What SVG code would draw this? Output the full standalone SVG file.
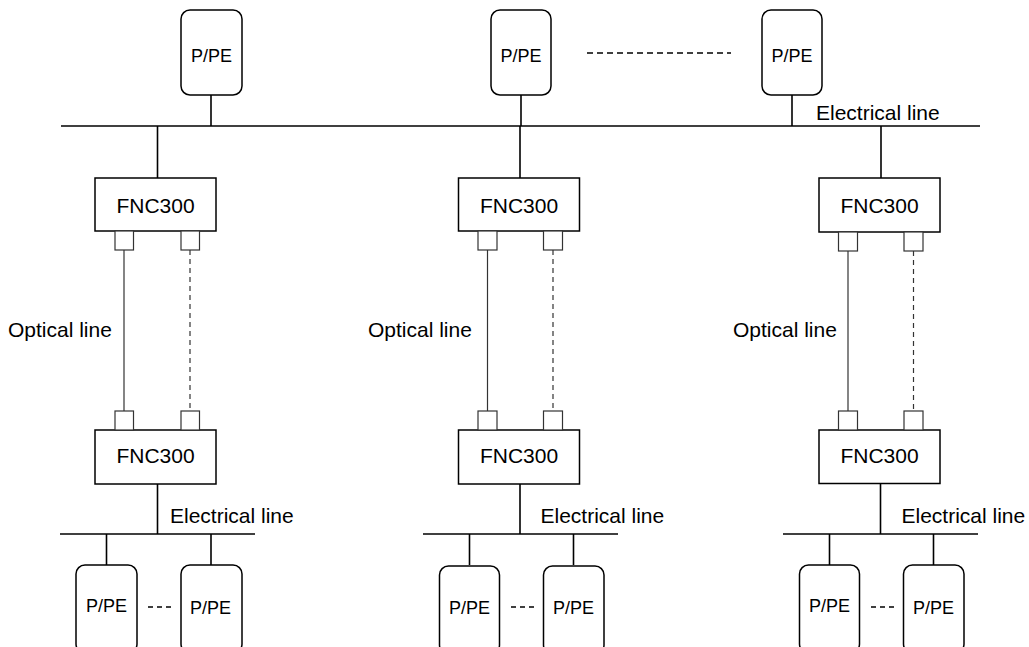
<svg xmlns="http://www.w3.org/2000/svg" width="1029" height="647" viewBox="0 0 1029 647">
<style>
.pe{fill:#fff;stroke:#000;stroke-width:1.5}
.fnc{fill:#fff;stroke:#000;stroke-width:1.5}
.port{fill:#fff;stroke:#333;stroke-width:1.2}
.w{stroke:#000;stroke-width:1.6;fill:none}
.opt{stroke:#333;stroke-width:1.2;fill:none}
.optd{stroke:#333;stroke-width:1.2;fill:none;stroke-dasharray:5 4}
.dots{stroke:#000;stroke-width:1.5;fill:none;stroke-dasharray:6 4}
.t{font-family:"Liberation Sans",Arial,sans-serif;fill:#000}
.lbl{font-size:21px}
.pt{font-size:18px;text-anchor:middle}
.ft{font-size:21px;text-anchor:middle}
</style>
<rect width="1029" height="647" fill="#fff"/>
<g id="connectors">
  <line class="w" x1="61" y1="126" x2="980" y2="126"/>
  <line class="w" x1="211" y1="95" x2="211" y2="126"/>
  <line class="w" x1="521" y1="95" x2="521" y2="126"/>
  <line class="w" x1="792" y1="95" x2="792" y2="126"/>
  <line class="w" x1="157.5" y1="126" x2="157.5" y2="178"/>
  <line class="w" x1="520" y1="126" x2="520" y2="178"/>
  <line class="w" x1="881" y1="126" x2="881" y2="178"/>
  <line class="dots" x1="587" y1="53" x2="731" y2="53"/>
  <line class="opt" x1="124" y1="250" x2="124" y2="411"/>
  <line class="optd" x1="190" y1="250" x2="190" y2="411"/>
  <line class="opt" x1="487.5" y1="250" x2="487.5" y2="411"/>
  <line class="optd" x1="553" y1="250" x2="553" y2="411"/>
  <line class="opt" x1="848" y1="251" x2="848" y2="411"/>
  <line class="optd" x1="913.5" y1="251" x2="913.5" y2="411"/>
  <line class="w" x1="157.5" y1="484" x2="157.5" y2="534"/>
  <line class="w" x1="60" y1="534" x2="255" y2="534"/>
  <line class="w" x1="106.5" y1="534" x2="106.5" y2="565"/>
  <line class="w" x1="211" y1="534" x2="211" y2="565"/>
  <line class="w" x1="520" y1="484" x2="520" y2="534"/>
  <line class="w" x1="423" y1="534" x2="618" y2="534"/>
  <line class="w" x1="469.5" y1="534" x2="469.5" y2="565"/>
  <line class="w" x1="573.5" y1="534" x2="573.5" y2="565"/>
  <line class="w" x1="880.5" y1="484" x2="880.5" y2="534"/>
  <line class="w" x1="783" y1="534" x2="978" y2="534"/>
  <line class="w" x1="829.5" y1="534" x2="829.5" y2="565"/>
  <line class="w" x1="933.5" y1="534" x2="933.5" y2="565"/>
  <line class="dots" x1="148" y1="607" x2="174" y2="607" style="stroke-dasharray:5 4"/>
  <line class="dots" x1="511" y1="607" x2="537" y2="607" style="stroke-dasharray:5 4"/>
  <line class="dots" x1="871" y1="607" x2="897" y2="607" style="stroke-dasharray:5 4"/>
</g>
<g id="labels">
  <text class="t lbl" x="816" y="120">Electrical line</text>
  <text class="t lbl" x="8" y="337">Optical line</text>
  <text class="t lbl" x="368" y="337">Optical line</text>
  <text class="t lbl" x="733" y="337">Optical line</text>
  <text class="t lbl" x="170" y="523">Electrical line</text>
  <text class="t lbl" x="540.5" y="523">Electrical line</text>
  <text class="t lbl" x="901.5" y="523">Electrical line</text>
</g>
<g id="pe-top-1"><rect class="pe" x="181" y="10" width="61" height="85" rx="9"/><text class="t pt" x="211.5" y="62">P/PE</text></g>
<g id="pe-top-2"><rect class="pe" x="491" y="10" width="60" height="85" rx="9"/><text class="t pt" x="521" y="62">P/PE</text></g>
<g id="pe-top-3"><rect class="pe" x="762" y="10" width="60" height="85" rx="9"/><text class="t pt" x="792" y="62">P/PE</text></g>
<g id="fnc-up-1"><rect class="fnc" x="95" y="178" width="121" height="53"/><text class="t ft" x="155.5" y="213">FNC300</text>
  <rect class="port" x="115" y="231" width="18.5" height="19"/><rect class="port" x="181" y="231" width="18.5" height="19"/></g>
<g id="fnc-up-2"><rect class="fnc" x="458.5" y="178" width="121" height="53"/><text class="t ft" x="519" y="213">FNC300</text>
  <rect class="port" x="478" y="231" width="19" height="19"/><rect class="port" x="543.5" y="231" width="19" height="19"/></g>
<g id="fnc-up-3"><rect class="fnc" x="819" y="178" width="121" height="54"/><text class="t ft" x="879.5" y="213">FNC300</text>
  <rect class="port" x="838.5" y="232" width="19" height="19"/><rect class="port" x="904" y="232" width="19" height="19"/></g>
<g id="fnc-low-1"><rect class="fnc" x="95" y="430" width="121" height="54"/><text class="t ft" x="155.5" y="463">FNC300</text>
  <rect class="port" x="115" y="411" width="18.5" height="19"/><rect class="port" x="181" y="411" width="18.5" height="19"/></g>
<g id="fnc-low-2"><rect class="fnc" x="458.5" y="430" width="121" height="54"/><text class="t ft" x="519" y="463">FNC300</text>
  <rect class="port" x="478" y="411" width="19" height="19"/><rect class="port" x="543.5" y="411" width="19" height="19"/></g>
<g id="fnc-low-3"><rect class="fnc" x="819" y="430" width="121" height="53.5"/><text class="t ft" x="879.5" y="463">FNC300</text>
  <rect class="port" x="838.5" y="411" width="19" height="19"/><rect class="port" x="904" y="411" width="19" height="19"/></g>
<g id="pe-bot-1a"><rect class="pe" x="76" y="565" width="61" height="88" rx="9"/><text class="t pt" x="106.5" y="612">P/PE</text></g>
<g id="pe-bot-1b"><rect class="pe" x="181" y="565" width="61" height="88" rx="9"/><text class="t pt" x="210.5" y="614">P/PE</text></g>
<g id="pe-bot-2a"><rect class="pe" x="439.5" y="566" width="60" height="88" rx="9"/><text class="t pt" x="469.5" y="614">P/PE</text></g>
<g id="pe-bot-2b"><rect class="pe" x="543.5" y="566" width="60.5" height="88" rx="9"/><text class="t pt" x="573.5" y="614">P/PE</text></g>
<g id="pe-bot-3a"><rect class="pe" x="799.5" y="565" width="60" height="88" rx="9"/><text class="t pt" x="829.5" y="612">P/PE</text></g>
<g id="pe-bot-3b"><rect class="pe" x="903.5" y="565" width="60.5" height="88" rx="9"/><text class="t pt" x="933.5" y="614">P/PE</text></g>
</svg>
